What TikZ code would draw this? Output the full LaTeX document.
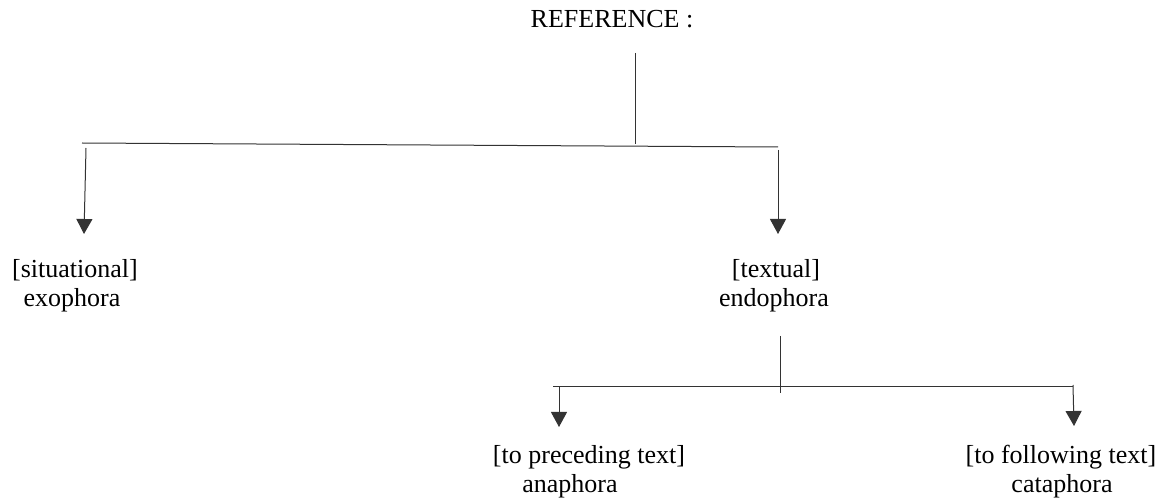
\documentclass[tikz,border=0pt]{standalone}
\usepackage{fontspec}
\setmainfont{Liberation Serif}
\usetikzlibrary{arrows.meta}
\begin{document}
\begin{tikzpicture}[x=1bp,y=-1bp,
  lbl/.style={inner sep=0pt,anchor=base,font=\fontsize{26bp}{30bp}\selectfont},
  ln/.style={line width=1bp,draw=black!80},
  arr/.style={ln,-{Triangle[length=15bp,width=16bp]}}]
\useasboundingbox (0,0) rectangle (1163,500);
% texts
\node[lbl] (ref) at (612,28) {REFERENCE :};
\node[lbl] (sit) at (75,278) {[situational]};
\node[lbl] (exo) at (72,307) {exophora};
\node[lbl] (tex) at (776,278) {[textual]};
\node[lbl] (endo) at (774,307) {endophora};
\node[lbl] (prec) at (589,463) {[to preceding text]};
\node[lbl] (ana) at (570,492) {anaphora};
\node[lbl] (foll) at (1061,463) {[to following text]};
\node[lbl] (cata) at (1062,492) {cataphora};
% top branch
\coordinate (t1) at (635,53);
\coordinate (t2) at (635,144);
\coordinate (hL) at (82,143);
\coordinate (hR) at (778,147);
\coordinate (aL1) at (86,148);
\coordinate (aL2) at (84,234);
\coordinate (aR1) at (778,150);
\coordinate (aR2) at (778,234);
\draw[ln] (t1) -- (t2);
\draw[ln] (hL) -- (hR);
\draw[arr] (aL1) -- (aL2);
\draw[arr] (aR1) -- (aR2);
% lower branch
\coordinate (b1) at (780,336);
\coordinate (b2) at (780,393);
\coordinate (gL) at (553,387);
\coordinate (gR) at (1073,387);
\coordinate (cL1) at (559,387);
\coordinate (cL2) at (559,427);
\coordinate (cR1) at (1073,385);
\coordinate (cR2) at (1074,426);
\draw[ln] (b1) -- (b2);
\draw[ln] (gL) -- (gR);
\draw[arr] (cL1) -- (cL2);
\draw[arr] (cR1) -- (cR2);
\end{tikzpicture}
\end{document}
